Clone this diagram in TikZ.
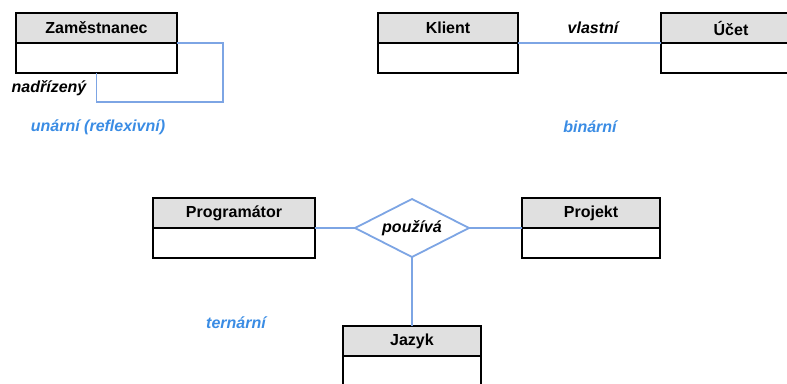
\documentclass[tikz,border=0pt]{standalone}
\usepackage{fontspec}
\setmainfont{Liberation Sans}
\usetikzlibrary{shapes.geometric}
\definecolor{linkblue}{RGB}{125,165,228}
\definecolor{labelblue}{RGB}{58,140,228}
\definecolor{hdrgray}{RGB}{224,224,224}
\tikzset{
  hdr/.style={draw=black, line width=1.6pt, fill=hdrgray, anchor=north west,
    inner sep=0pt, outer sep=0pt, font=\fontsize{16}{18}\selectfont\bfseries},
  bodybox/.style={draw=black, line width=1.6pt, fill=white, anchor=north west,
    inner sep=0pt, outer sep=0pt, minimum height=30pt},
  link/.style={draw=linkblue, line width=1.8pt},
  rolelabel/.style={font=\fontsize{16}{18}\selectfont\bfseries\itshape, text=black, inner sep=0pt},
  kindlabel/.style={font=\fontsize{16}{18}\selectfont\bfseries\itshape, text=labelblue, inner sep=0pt},
  relship/.style={diamond, aspect=2, draw=linkblue, line width=1.8pt, fill=white, inner sep=0pt, outer sep=0pt,
    minimum width=114pt, minimum height=58pt, font=\fontsize{16}{18}\selectfont\bfseries\itshape}
}
\begin{document}
\begin{tikzpicture}[x=1pt, y=-1pt]
\useasboundingbox (0,0) rectangle (787,383);
\clip (0,0) rectangle (787,383);

% unary (reflexive) relationship
\node[hdr, minimum width=161pt, minimum height=30pt] (zh) at (16,13) {Zaměstnanec};
\node[bodybox, minimum width=161pt] (zb) at (zh.south west) {};
\coordinate (r1) at (223,43);
\coordinate (r2) at (223,102);
\coordinate (r3) at (96.5,102);
\draw[link] (zh.south east) -- (r1) -- (r2) -- (r3) -- (zb.south);
\node[rolelabel] (nad) at (49,88) {nadřízený};
\node[kindlabel] (una) at (98,127) {unární (reflexivní)};

% binary relationship
\node[hdr, minimum width=140pt, minimum height=30pt] (kh) at (378,13) {Klient};
\node[bodybox, minimum width=140pt] (kb) at (kh.south west) {};
\node[hdr, minimum width=140pt, minimum height=30pt] (uh) at (661,13) {Účet};
\node[bodybox, minimum width=140pt] (ub) at (uh.south west) {};
\draw[link] (kh.south east) -- (uh.south west);
\node[rolelabel] (vla) at (593,28) {vlastní};
\node[kindlabel] (bin) at (590,127) {binární};

% ternary relationship
\node[hdr, minimum width=162pt, minimum height=30pt] (ph) at (153,198) {Programátor};
\node[bodybox, minimum width=162pt] (pb) at (ph.south west) {};
\node[hdr, minimum width=138pt, minimum height=30pt] (jh) at (522,198) {Projekt};
\node[bodybox, minimum width=138pt] (jb) at (jh.south west) {};
\node[hdr, minimum width=138pt, minimum height=30pt] (lh) at (343,326) {Jazyk};
\node[bodybox, minimum width=138pt] (lb) at (lh.south west) {};
\node[relship] (uses) at (412,228) {používá};
\draw[link] (ph.south east) -- (uses.west);
\draw[link] (uses.east) -- (jh.south west);
\draw[link] (uses.south) -- (lh.north);
\node[kindlabel] (ter) at (236,323) {ternární};
\end{tikzpicture}
\end{document}
